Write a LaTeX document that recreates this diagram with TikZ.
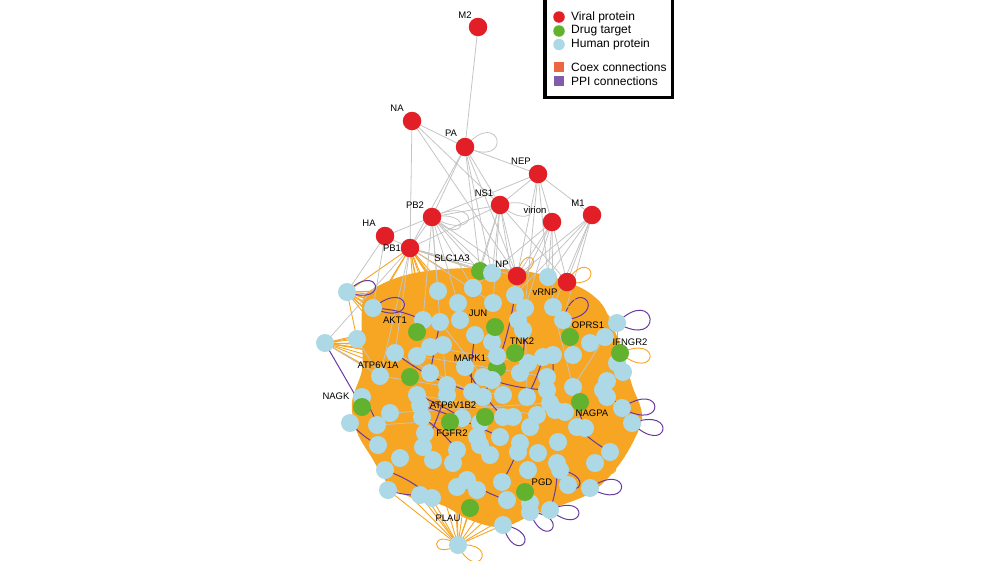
\documentclass[tikz,border=0pt]{standalone}
\usepackage{fontspec}
\setmainfont{Liberation Sans}
\definecolor{vred}{RGB}{226,30,38}
\definecolor{dgreen}{RGB}{98,178,48}
\definecolor{hblue}{RGB}{173,216,230}
\definecolor{coexc}{RGB}{246,166,35}
\definecolor{ppic}{RGB}{104,58,160}
\definecolor{greyc}{RGB}{196,196,196}
\definecolor{legcoex}{RGB}{238,102,62}
\definecolor{legppi}{RGB}{128,92,170}
\tikzset{
  vir/.style={circle,fill=vred,minimum size=18.5pt,inner sep=0pt},
  drug/.style={circle,fill=dgreen,minimum size=18pt,inner sep=0pt},
  hum/.style={circle,fill=hblue,minimum size=18pt,inner sep=0pt},
  coex/.style={draw=coexc,line width=0.9pt},
  ppi/.style={draw=ppic,line width=1pt},
  gry/.style={draw=greyc,line width=0.8pt},
  lab/.style={font=\fontsize{9.5}{10}\selectfont,inner sep=0pt,text=black},
  legtext/.style={font=\fontsize{12}{13}\selectfont,anchor=west,inner sep=0pt},
  legdot/.style={circle,minimum size=11.5pt,inner sep=0pt},
  legsq/.style={minimum size=9.5pt,inner sep=0pt},
}
\begin{document}
\begin{tikzpicture}[x=1pt,y=-1pt]
\useasboundingbox (0,0) rectangle (995,560);

% ---------- viral proteins (positions) ----------
\foreach \n/\x/\y in {M2/478/27,NA/412/121,PA/465/147,NEP/538/174,NS1/500/205,virion/552/222,M1/592/215,PB2/432/217,HA/385/236,PB1/410/248,NP/517/276,vRNP/567/282}
  \coordinate (\n) at (\x,\y);
% ---------- drug targets ----------
\foreach \n/\x/\y in {SLC1A3/480/271,g2/417/332,JUN/495/327,TNK2/515/353,ATP6V1A/410/377,MAPK1/497/368,NAGK/362/407,FGFR2/450/422,g9/485/417,OPRS1/570/337,IFNGR2/620/353,NAGPA/580/402,PGD/525/492,PLAU/470/508}
  \coordinate (\n) at (\x,\y);
% ---------- human proteins ----------
\foreach \n/\x/\y in {h1/347/292,h2/373/308,h3/325/343,h4/357/339,h5/438/291,h6/473/288,h7/492/273,h8/548/277,h9/458/303,h10/493/303,h11/515/295,h12/525/308,h13/553/307,h14/563/320,h15/423/320,h16/440/322,h17/460/320,h18/475/335,h19/492/342,h20/518/320,h21/523/330,h22/430/347,h23/443/345,h24/395/353,h25/417/356,h26/380/376,h27/430/373,h28/465/367,h29/497/356,h30/528/363,h31/520/373,h32/543/357,h33/553/355,h34/573/355,h35/590/343,h36/605/337,h37/617/323,h38/617/363,h39/623/372,h40/447/385,h41/447/395,h42/417/395,h43/472/392,h44/483/377,h45/492/380,h46/483/397,h47/503/395,h48/527/397,h49/547/377,h50/547/390,h51/550/403,h52/555/410,h53/573/387,h54/603/390,h55/607/381,h56/607/397,h57/362/397,h58/390/413,h59/350/423,h60/377/425,h61/420/405,h62/422/417,h63/425/433,h64/462/418,h65/480/423,h66/503/417,h67/513/417,h68/537/415,h69/530/427,h70/565/412,h71/622/408,h72/632/423,h73/577/427,h74/585/428,h75/558/442,h76/378/445,h77/400/458,h78/423/447,h79/433/460,h80/457/450,h81/453/463,h82/477/437,h83/480/445,h84/500/437,h85/490/455,h86/520/443,h87/518/452,h88/538/453,h89/557/463,h90/560/470,h91/595/463,h92/610/452,h93/385/470,h94/388/490,h95/420/495,h96/432/498,h97/457/487,h98/467/480,h99/477/490,h100/502/482,h101/528/470,h102/530/503,h103/507/500,h104/550/510,h105/503/525,h106/530/512,h107/568/485,h108/590/488,h109/458/545}
  \coordinate (\n) at (\x,\y);

% ---------- dense coexpression core ----------
\fill[coexc] plot[smooth cycle,tension=0.6] coordinates {(368,292) (410,274) (470,268) (530,272) (575,285) (600,302) (612,325) (622,350) (632,385) (642,415) (633,442) (615,470) (592,492) (562,505) (532,515) (502,527) (470,520) (442,505) (410,497) (387,482) (372,458) (357,432) (352,402) (362,370) (362,340) (362,310)};

% ---------- coexpression edges ----------
\foreach \a/\b in {h1/h5,h1/h9,h1/h15,h1/h16,h1/h22,h1/h4,h1/h24,h1/h6,h1/h17,h1/h25,h1/g2,h1/h27,
  h2/h15,h2/h16,h2/h5,h2/h17,h2/h9,h2/h23,h2/h27,h2/h18,
  h3/h4,h3/h24,h3/h25,h3/h22,h3/h26,h3/h16,h3/h23,h3/h27,h3/h15,h3/ATP6V1A,h3/h42,h3/h28,
  h4/h22,h4/h23,h4/h25,h4/h27,h4/h16,h4/h28,h4/h15,
  PB1/h2,PB1/h15,PB1/h9,PB1/h5,PB1/h16,PB1/h22,PB1/h6,PB1/h17,PB1/h1,PB1/h4,PB1/g2,PB1/SLC1A3,PB1/h18,PB1/h23,
  h109/h94,h109/h95,h109/h96,h109/PLAU,h109/h97,h109/h99,h109/h103,h109/h105,h109/h93,h109/h100,h109/h81,h109/h98,h109/h79,h109/h77,h109/h102,
  h72/h71,h72/h92,h72/h56,h72/h39,h72/h75,h72/h74,h72/h91,h72/h54,h72/h70,h72/h73,
  h37/h35,h37/h36,h37/h38,h37/h14,h37/h34,h37/OPRS1,h37/h33,h37/h13,h37/h21,
  IFNGR2/h38,IFNGR2/h39,IFNGR2/h35,IFNGR2/h55,IFNGR2/h34,IFNGR2/h53,
  h8/h13,h8/h14,h8/h12,h8/h11,h8/OPRS1,h8/vRNP,h8/h20,
  vRNP/h13,vRNP/h14,vRNP/h34,vRNP/h35,vRNP/h36,vRNP/h37,
  NP/h11,NP/h12,NP/h10,NP/h7,
  h105/h104,h105/h102,h105/h103,h105/h106,h105/h100,h105/h101,
  h108/h107,h108/h91,h108/h92,h108/h90,h108/h89,h108/h75,
  h91/h92,h91/h75,h91/h89,h92/h56,h92/h74,
  h59/h57,h59/h60,h59/h76,h59/h58,h59/h62,h59/h26,h59/h42,
  h76/h93,h76/h60,h76/h94,h76/h77,h76/h63,h76/h62,
  h93/h95,h93/h79,h94/h96,h94/h81,h71/h54,h71/h55,h71/h70,h39/h53,h39/h56}
  \draw[coex] (\a) -- (\b);

% ---------- grey edges (viral interactions) ----------
\foreach \a/\b in {M2/PA,NA/PA,NA/PB1,NA/NS1,NA/NP,PA/NEP,PA/PB2,PA/PB1,PA/NS1,PA/NP,PA/SLC1A3,PA/h7,
  NEP/NS1,NEP/PB2,NEP/M1,NEP/virion,NEP/h8,NEP/NP,NEP/h12,
  NS1/PB2,NS1/NP,NS1/SLC1A3,NS1/vRNP,NS1/h7,NS1/h10,NS1/h11,NS1/h6,NS1/PB1,
  PB2/HA,PB2/PB1,PB2/SLC1A3,PB2/NP,PB2/h5,PB2/h9,PB2/h6,PB2/h15,PB2/h16,PB2/h7,
  HA/PB1,HA/h1,HA/h2,
  PB1/SLC1A3,PB1/NP,PB1/h3,PB1/h24,PB1/h26,PB1/h10,PB1/h7,
  virion/h8,virion/NP,virion/h11,virion/h13,virion/vRNP,virion/h6,virion/h12,
  M1/vRNP,M1/h8,M1/NP,M1/h13,M1/h14,M1/h11,
  h3/h26,h24/h43,h4/h26,h16/h44,h36/h53,h23/h41,h13/h53,h12/h48,h26/h47,h25/h49,h42/h68,h60/h66,h22/h30,h58/h51}
  \draw[gry] (\a) -- (\b);
\draw[gry] (PA) .. controls +(-50:55) and +(25:55) .. (PA);
\draw[gry] (PB2) .. controls +(-25:55) and +(30:55) .. (PB2);
\draw[gry] (PB2) .. controls +(-10:45) and +(45:45) .. (PB2);
\draw[gry] (NS1) .. controls +(-15:48) and +(40:48) .. (NS1);

% ---------- PPI edges ----------
\foreach \a/\b/\bnd in {h3/NAGK/0,h2/h15/10,h24/h43/-10,h11/h46/8,h42/h64/5,h71/h54/0,h57/h60/10,h59/h76/-8,h89/h104/10,h32/h48/6,h28/h66/-6,h62/h80/8,h16/h27/0,h44/h50/-8,h93/h96/10,h73/h92/-6,h98/h103/-8,h61/h84/4,h37/h36/0,h94/h95/-10,h12/h31/6,h18/h43/-6,h40/h78/8,h86/h100/6,h53/h74/-5,h33/h51/5}
  \draw[ppi] (\a) to[bend left=\bnd] (\b);

% ---------- self loops (screen angles: negative = up) ----------
\draw[ppi] (h1) .. controls +(-45:46) and +(20:46) .. (h1);
\draw[ppi] (h2) .. controls +(-40:50) and +(25:50) .. (h2);
\draw[ppi] (h14) .. controls +(-75:50) and +(-5:50) .. (h14);
\draw[ppi] (h37) .. controls +(-45:56) and +(30:56) .. (h37);
\draw[ppi] (h71) .. controls +(-35:52) and +(30:52) .. (h71);
\draw[ppi] (h72) .. controls +(-20:50) and +(45:50) .. (h72);
\draw[ppi] (h108) .. controls +(-35:50) and +(30:50) .. (h108);
\draw[ppi] (h104) .. controls +(-25:46) and +(40:46) .. (h104);
\draw[ppi] (h106) .. controls +(5:44) and +(70:44) .. (h106);
\draw[ppi] (h105) .. controls +(10:44) and +(75:44) .. (h105);
\draw[ppi] (h90) .. controls +(10:40) and +(75:40) .. (h90);
\draw[coex] (IFNGR2) .. controls +(-25:48) and +(40:48) .. (IFNGR2);
\draw[coex] (h13) .. controls +(-50:36) and +(10:36) .. (h13);
\draw[coex] (NP) .. controls +(-80:36) and +(-20:36) .. (NP);
\draw[coex] (vRNP) .. controls +(-60:42) and +(10:42) .. (vRNP);
\draw[coex] (h109) .. controls +(-5:44) and +(65:44) .. (h109);
\draw[coex] (h109) .. controls +(150:34) and +(215:34) .. (h109);
\draw[coex] (h91) .. controls +(-10:34) and +(50:34) .. (h91);

% ---------- nodes ----------
\foreach \n in {h1,h2,h3,h4,h5,h6,h7,h8,h9,h10,h11,h12,h13,h14,h15,h16,h17,h18,h19,h20,h21,h22,h23,h24,h25,h26,h27,h28}
  \node[hum] (n\n) at (\n) {};
\node[drug] (nMAPK1) at (MAPK1) {};
\foreach \n in {h29,h30,h31,h32,h33,h34,h35,h36,h37,h38,h39,h40,h41,h42,h43,h44,h45,h46,h47,h48,h49,h50,h51,h52,h53,h54,h55,h56,h57,h58,h59,h60,h61,h62,h63,h64,h65,h66,h67,h68,h69,h70,h71,h72,h73,h74,h75,h76,h77,h78,h79,h80,h81,h82,h83,h84,h85,h86,h87,h88,h89,h90,h91,h92,h93,h94,h95,h96,h97,h98,h99,h100,h101,h102,h103,h104,h105,h106,h107,h108,h109}
  \node[hum] (n\n) at (\n) {};
\foreach \n in {SLC1A3,g2,JUN,TNK2,ATP6V1A,NAGK,FGFR2,g9,OPRS1,IFNGR2,NAGPA,PGD,PLAU}
  \node[drug] (n\n) at (\n) {};
\node[hum] (nh7b) at (h7) {};
\foreach \n in {M2,NA,PA,NEP,NS1,virion,M1,PB2,HA,PB1,NP,vRNP}
  \node[vir] (n\n) at (\n) {};
\node[hum] (nh6b) at (h6) {};

% ---------- labels ----------
\foreach \t/\x/\y in {M2/465/15,NA/397/108,PA/451/133,NEP/521/161,NS1/484/193,virion/535/210,M1/578/203,PB2/415/205,HA/369/223,PB1/392/248,SLC1A3/452/258,NP/502/264,vRNP/545/292,AKT1/395/320,JUN/478/313,TNK2/522/341,MAPK1/470/358,ATP6V1A/378/365,NAGK/336/396,ATP6V1B2/453/405,FGFR2/452/433,OPRS1/588/325,IFNGR2/630/342,NAGPA/592/413,PGD/542/482,PLAU/448/518}
  \node[lab] (l\t) at (\x,\y) {\t};

% ---------- legend ----------
\fill[white] (544.75,-5) rectangle (672.25,97.25);
\draw[line width=3.5pt] (544.75,-5) rectangle (672.25,97.25);
\node[legdot,fill=vred] (ld1) at (559,17) {};
\node[legdot,fill=dgreen] (ld2) at (559,31) {};
\node[legdot,fill=hblue] (ld3) at (559,44.5) {};
\node[legsq,fill=legcoex] (ls1) at (559,67) {};
\node[legsq,fill=legppi] (ls2) at (559,81) {};
\node[legtext] (lt1) at (571,17) {Viral protein};
\node[legtext] (lt2) at (571,31) {Drug target};
\node[legtext] (lt3) at (571,44.5) {Human protein};
\node[legtext] (lt4) at (571,67) {Coex connections};
\node[legtext] (lt5) at (571,81) {PPI connections};
\end{tikzpicture}
\end{document}
